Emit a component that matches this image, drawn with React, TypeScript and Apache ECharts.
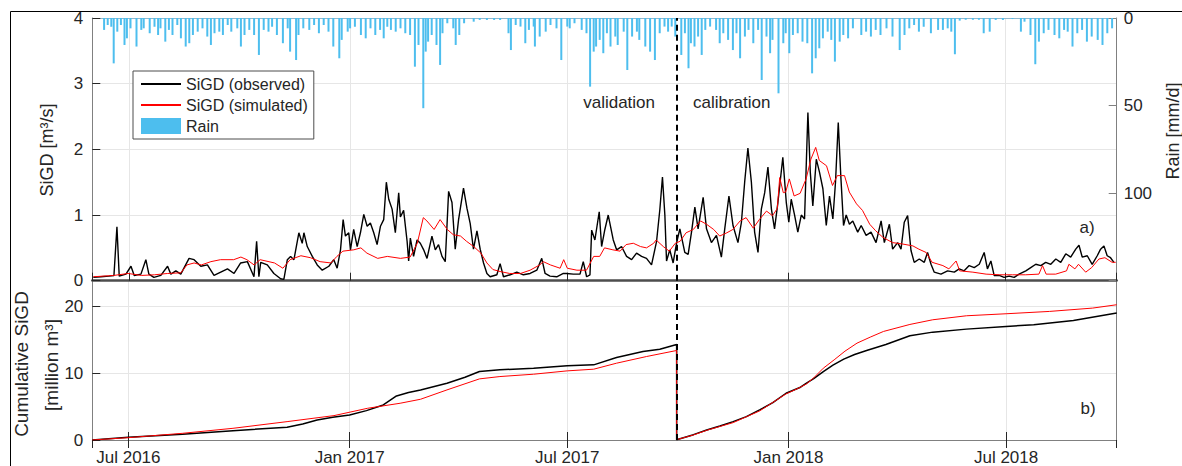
import React, { useEffect, useRef } from "react";
import * as echarts from "echarts";

const DAY = 86400000;
const T0 = Date.UTC(2016, 5, 1);
const TOTAL_DAYS = 852;
const SPLIT_DAY = 486;
const FONT = "'Liberation Sans', Arial, sans-serif";
const monthNames = ["Jan", "Feb", "Mar", "Apr", "May", "Jun", "Jul", "Aug", "Sep", "Oct", "Nov", "Dec"];
const seriesNames = ["SiGD (observed)", "SiGD (simulated)", "Rain"];

// [day since 2016-06-01, m3/s]
const observed: number[][] = [
  [0,0.05],[6.4,0.06],[13,0.07],[17.2,0.08],[19.7,0.82],[21.6,0.07],[27.2,0.1],[31.4,0.22],[34.1,0.08],[39.7,0.1],[43.8,0.32],[46.3,0.1],[50.5,0.05],[56.3,0.08],[61.9,0.22],[64.6,0.1],[68.8,0.15],[72.9,0.1],[79.8,0.34],[84,0.32],[89.6,0.22],[95.1,0.24],[100.6,0.08],[106.2,0.13],[111.8,0.18],[117.3,0.11],[122.8,0.27],[128.4,0.29],[133.9,0.06],[136.1,0.6],[138,0.06],[139.5,0.28],[145,0.24],[150.5,0.11],[156.1,0.03],[158.8,0.02],[161.7,0.32],[164.4,0.37],[167.2,0.32],[171.3,0.73],[174.1,0.57],[175.5,0.73],[178.3,0.52],[182.5,0.37],[186.6,0.24],[190.8,0.16],[196.3,0.22],[200.4,0.32],[203.2,0.19],[206,0.47],[208.2,0.93],[210.1,0.68],[212.9,0.73],[214.3,0.47],[217,0.78],[219.9,0.52],[222.6,0.73],[225.4,1.01],[228.2,0.83],[230.9,0.88],[233.7,0.73],[236.5,0.55],[239.3,0.83],[242,0.93],[244.2,1.5],[246.2,1.24],[249,1.09],[251.7,0.73],[254.5,1.34],[255.9,0.97],[258.6,1.07],[261.5,0.6],[262.8,0.3],[264.2,0.65],[266.9,0.37],[269.8,0.62],[272.5,0.57],[275.3,0.47],[278.1,0.34],[282.2,0.68],[285,0.47],[287.7,0.55],[290.6,0.37],[293.3,0.29],[296.1,1.36],[298.9,1.19],[301.6,0.48],[304.4,0.93],[308.5,1.41],[311.4,1.1],[314.1,0.87],[316.8,0.48],[319.7,0.76],[322.4,0.48],[325.2,0.27],[328,0.11],[330.7,0.06],[336.3,0.09],[339,0.26],[341.8,0.06],[347.4,0.09],[352.9,0.13],[358.4,0.09],[364,0.11],[369.6,0.16],[373.7,0.34],[376.5,0.11],[380.6,0.07],[386.2,0.06],[391.7,0.11],[394.5,0.11],[400,0.1],[405.6,0.1],[408.3,0.29],[411.1,0.06],[413.9,0.09],[415.3,0.77],[418,0.62],[421.6,1.05],[423.6,0.52],[426.3,0.78],[429.1,1.0],[433.3,0.62],[436.1,0.47],[440.2,0.52],[444.4,0.37],[448.6,0.32],[452.7,0.42],[456.9,0.37],[461,0.34],[465.2,0.24],[469.4,0.6],[472.1,1.08],[474.3,1.58],[476.3,1.0],[477.7,0.3],[480.4,0.47],[483.2,0.27],[486,0.57],[488.8,0.79],[492.9,0.43],[495.7,0.4],[498.5,0.74],[501.3,1.12],[504,0.79],[508.2,1.27],[511,0.79],[515.1,0.58],[519.3,0.69],[523.4,0.36],[526.2,0.79],[529.7,1.29],[533.1,0.84],[537.2,0.58],[540.1,0.89],[542.8,1.5],[545.5,2.02],[548.4,1.5],[551.1,0.74],[553.9,0.43],[556.7,1.09],[559.5,1.34],[562.2,1.73],[565.1,1.09],[567.7,0.79],[570.5,1.19],[574.6,1.88],[577.5,1.19],[579.6,0.89],[581.6,1.24],[584.4,1.0],[587.1,0.74],[590,1.0],[592.7,0.94],[595.5,2.56],[597.5,1.65],[599.6,1.14],[602.5,1.85],[605.2,1.65],[608,1.4],[610.8,0.84],[613.5,1.29],[616.3,0.94],[618.5,1.5],[620.8,2.41],[622.9,1.6],[625.2,0.84],[627.4,1.0],[630.1,0.86],[632.9,0.91],[637,0.74],[639.9,0.84],[644,0.69],[648.1,0.74],[652.3,0.58],[656.5,0.91],[659.2,0.58],[663.4,0.86],[666.1,0.48],[670.3,0.58],[673.1,0.48],[675.8,0.89],[678.6,0.99],[681.4,0.46],[684.1,0.28],[688.3,0.33],[692.5,0.28],[695.2,0.43],[698.1,0.25],[700.8,0.13],[706.4,0.1],[711.9,0.15],[717.5,0.13],[721.6,0.18],[725.7,0.15],[729.9,0.23],[734.1,0.2],[738.3,0.25],[742.4,0.43],[745.1,0.18],[748,0.3],[750.7,0.08],[754.9,0.08],[759,0.05],[763.2,0.07],[767.4,0.05],[771.5,0.1],[777.1,0.15],[781.2,0.2],[785.4,0.25],[789.6,0.23],[793.7,0.28],[797.9,0.25],[802.1,0.33],[806.2,0.28],[810.4,0.41],[814.5,0.36],[818.7,0.48],[821.4,0.54],[824.1,0.36],[828.3,0.38],[832.4,0.25],[836.6,0.38],[839.4,0.48],[842.2,0.53],[844.9,0.38],[847.7,0.35],[850.5,0.28]
];

const simulated: number[][] = [
  [0,0.06],[17,0.08],[29,0.11],[40,0.08],[51,0.09],[62,0.11],[73,0.12],[78,0.24],[84,0.27],[90,0.24],[98,0.29],[106,0.32],[117,0.32],[123,0.36],[128,0.32],[134,0.24],[139,0.32],[151,0.27],[158,0.19],[164,0.32],[173,0.38],[181,0.35],[189,0.29],[198,0.27],[203,0.37],[208,0.45],[217,0.47],[223,0.5],[228,0.42],[237,0.34],[245,0.37],[256,0.34],[264,0.36],[270,0.57],[275,0.96],[278,0.91],[284,0.78],[289,0.93],[295,0.78],[300,0.7],[306,0.68],[311,0.6],[317,0.52],[323,0.42],[328,0.27],[333,0.17],[339,0.14],[347,0.11],[356,0.11],[364,0.16],[372,0.24],[375,0.29],[381,0.24],[389,0.19],[392,0.32],[395,0.19],[403,0.16],[411,0.16],[417,0.37],[422,0.37],[426,0.5],[433,0.47],[439,0.45],[444,0.55],[450,0.57],[456,0.52],[461,0.5],[467,0.57],[469,0.62],[475,0.52],[480,0.45],[485,0.57],[489,0.6],[494,0.73],[500,0.78],[506,0.91],[511,0.86],[517,0.78],[522,0.68],[528,0.73],[533,0.78],[539,0.91],[544,0.96],[550,0.8],[555,0.93],[561,1.06],[566,0.99],[570,1.1],[572,1.57],[575,1.34],[577,1.35],[580,1.55],[584,1.29],[589,1.33],[594,1.55],[598,1.85],[602,2.03],[605,1.83],[611,1.75],[616,1.45],[620,1.6],[626,1.6],[630,1.35],[636,1.17],[641,1.07],[647,0.86],[652,0.76],[658,0.66],[666,0.58],[674,0.56],[683,0.53],[688,0.48],[694,0.43],[699,0.28],[708,0.23],[713,0.18],[719,0.3],[722,0.15],[733,0.13],[744,0.1],[755,0.09],[766,0.09],[777,0.09],[788,0.1],[791,0.23],[794,0.1],[802,0.1],[811,0.15],[813,0.25],[818,0.18],[821,0.25],[827,0.13],[832,0.2],[838,0.33],[843,0.35],[849,0.28],[852,0.28]
];

// [day, million m3]
const cumObserved: number[][] = [
  [0,0],[30,0.4],[75,0.85],[117,1.4],[162,1.9],[175,2.4],[187,3.0],[200,3.4],[214,3.75],[228,4.4],[242,5.25],[253,6.6],[263,7.1],[273,7.5],[295,8.5],[310,9.4],[322,10.25],[339,10.5],[367,10.75],[395,11.1],[417,11.25],[436,12.35],[458,13.25],[472,13.6],[486,14.3],
  [486,0.05],[500,0.8],[511,1.5],[522,2.1],[533,2.75],[544,3.5],[555,4.5],[566,5.6],[577,7.0],[589,7.9],[594,8.5],[600,9.2],[608,10.25],[616,11.2],[625,12.1],[634,12.8],[644,13.4],[660,14.3],[680,15.6],[699,16.15],[727,16.6],[760,17.0],[783,17.25],[816,17.9],[852,19.0]
];

const cumSimulated: number[][] = [
  [0,0],[30,0.35],[75,1.0],[117,1.75],[162,2.75],[201,3.65],[229,4.75],[256,5.5],[273,6.1],[295,7.5],[322,9.15],[339,9.5],[367,9.85],[395,10.35],[417,10.6],[436,11.5],[461,12.5],[486,13.4],
  [486,0.05],[500,0.75],[511,1.45],[533,2.6],[555,4.35],[577,6.9],[589,7.9],[594,8.4],[600,9.3],[608,10.75],[617,12.0],[626,13.3],[636,14.5],[647,15.4],[658,16.25],[680,17.3],[699,18.0],[727,18.6],[760,18.9],[796,19.25],[832,19.75],[852,20.25]
];

// [day, mm/d]
const rain: number[][] = [
  [9,6.8],[12,4],[15,5],[17,25.9],[20,7.8],[23,4],[26,15.4],[28,11.6],[31,5.9],[36,16.3],[40,6.8],[42,5.9],[47,8.7],[51,5],[54,9.7],[56,5.9],[60,13.5],[63,6.8],[66,9.7],[70,4],[73,11.6],[77,16.3],[80,14.4],[83,9.7],[87,7.8],[91,5.9],[95,10.6],[98,15.4],[101,8.7],[105,7.8],[108,9.7],[112,4],[115,7.8],[120,5.9],[123,16.3],[126,9.7],[130,6.8],[134,9.7],[138,21.1],[142,6.8],[146,7.8],[149,5],[153,9.7],[158,14.4],[162,5.9],[164,19.2],[169,24],[171,9.7],[175,5.9],[180,6.8],[184,4],[188,8.7],[192,4],[196,7.8],[200,16.3],[205,23],[207,12.5],[212,7.8],[214,5.9],[218,5],[223,9.7],[227,11.6],[231,5.9],[235,9.7],[239,6.8],[242,11.6],[245,5],[248,6.8],[252,7.8],[256,5.9],[260,8.7],[264,9.7],[268,27.8],[271,15.4],[275,51.5],[277,19.2],[279,13.5],[282,9.7],[286,15.4],[289,26.8],[291,8.7],[295,3],[300,5.9],[302,15.4],[305,9.7],[309,3],[317,2.1],[322,1.1],[328,1.1],[334,1.1],[339,1.1],[346,8.7],[348,18.3],[352,4],[356,4.9],[360,14.4],[363,6.8],[367,4.9],[368,16.3],[372,10.6],[377,7.8],[381,4],[386,5.9],[390,24],[395,4.9],[397,5.9],[401,3],[407,6.8],[411,8.7],[414,39.2],[417,19.2],[419,16.3],[422,12.5],[425,20.1],[428,8.7],[431,16.3],[435,10.6],[437,15.4],[442,7.8],[445,29.7],[449,10.6],[453,7.8],[455,12.5],[460,16.3],[464,19.2],[468,24],[472,8.7],[476,4.9],[479,7.8],[482,4.9],[485,10.6],[490,21.1],[493,8.7],[496,28.7],[498,14.4],[501,16.3],[504,10.6],[507,21.1],[510,6.8],[514,4.9],[519,6.8],[522,14.4],[525,8.7],[529,12.5],[533,18.3],[536,8.7],[539,23],[543,10.6],[546,6.8],[550,14.4],[554,6.8],[557,35.4],[561,10.6],[564,20.1],[566,12.5],[571,43],[575,14.4],[577,8.7],[580,20.1],[583,9.7],[587,8.7],[591,13.5],[595,14.4],[599,31.6],[602,23],[605,17.3],[608,11.6],[612,7.8],[615,12.5],[618,24.9],[622,13.5],[625,9.7],[629,11.6],[633,5.9],[640,9.7],[644,7.8],[648,10.6],[652,6.8],[656,9.7],[661,5.9],[666,10.6],[672,18.3],[676,9.7],[680,5.9],[684,4],[688,7.8],[692,5],[698,8.7],[704,6.8],[708,6.8],[712,5.9],[715,7.8],[718,20.7],[722,1.5],[727,1],[733,1],[738,1],[742,8.7],[747,7.8],[752,1.1],[758,1.1],[766,0.6],[773,7.8],[776,2.1],[781,9.7],[785,26.4],[788,13.5],[792,8.7],[796,6.8],[801,9.7],[805,11.6],[809,6.8],[812,7.8],[816,16.3],[820,8.7],[824,6.8],[828,13.5],[832,10.6],[837,12.5],[841,15.4],[845,8.7],[849,5.9]
];

const toTime = (pairs: number[][]) => pairs.map(([d, v]) => [T0 + d * DAY, v]);

const tickLabel = (val: number) => {
  const d = new Date(val);
  const m = d.getUTCMonth();
  if (d.getUTCDate() !== 1 || (m !== 0 && m !== 6)) return "";
  return monthNames[m] + " " + d.getUTCFullYear();
};

export default function App() {
  const ref = useRef<HTMLDivElement>(null);
  useEffect(() => {
    if (!ref.current) return;
    const chart = echarts.init(ref.current, null, { renderer: "svg" });
    const axisGray = "#808080";
    const textCol = "#262626";
    const gridCol = "#e6e6e6";
    const splitX = T0 + SPLIT_DAY * DAY;
    const xBase = {
      type: "time",
      min: T0,
      max: T0 + TOTAL_DAYS * DAY,
      minInterval: 181 * DAY,
      maxInterval: 184 * DAY,
    };
    const dashed = {
      silent: true,
      symbol: ["none", "none"],
      label: { show: false },
      lineStyle: { color: "#000", type: [6, 4], width: 2 },
      data: [{ xAxis: splitX }],
    };
    const option: any = {
      animation: false,
      useUTC: true,
      textStyle: { fontFamily: FONT },
      grid: [
        { left: 92.3, right: 65.3, top: 18, height: 262.7 },
        { left: 92.3, right: 65.3, top: 280.7, height: 159.3 },
      ],
      legend: {
        data: [
          { name: seriesNames[0], itemStyle: { opacity: 0 } },
          { name: seriesNames[1], itemStyle: { opacity: 0 } },
          { name: seriesNames[2], icon: "rect" },
        ],
        orient: "vertical",
        left: 133,
        top: 71,
        padding: [5, 6, 5, 7],
        itemWidth: 40,
        itemHeight: 16,
        itemGap: 5,
        selectedMode: false,
        backgroundColor: "#fff",
        borderColor: "#4d4d4d",
        borderWidth: 1,
        borderRadius: 0,
        textStyle: { fontSize: 16, color: textCol, fontFamily: FONT },
      },
      xAxis: [
        {
          ...xBase, gridIndex: 0, position: "bottom",
          axisLine: { show: true, lineStyle: { color: "#4d4d4d", width: 2.5 } },
          axisTick: { show: true, inside: true, length: 8, lineStyle: { color: textCol } },
          axisLabel: { show: false },
          splitLine: { show: true, lineStyle: { color: gridCol, width: 1 } },
        },
        {
          ...xBase, gridIndex: 0, position: "top",
          axisLine: { show: true, lineStyle: { color: "#93b6cc", width: 1 } },
          axisTick: { show: false }, axisLabel: { show: false }, splitLine: { show: false },
        },
        {
          ...xBase, gridIndex: 1, position: "bottom",
          axisLine: { show: true, lineStyle: { color: axisGray, width: 1 } },
          axisTick: { show: true, inside: true, length: 8, lineStyle: { color: textCol } },
          axisLabel: { show: true, formatter: tickLabel, fontSize: 17, color: textCol, margin: 9, fontFamily: FONT, showMinLabel: false, showMaxLabel: false },
          splitLine: { show: true, lineStyle: { color: gridCol, width: 1 } },
        },
        {
          ...xBase, gridIndex: 1, position: "top",
          axisLine: { show: false },
          axisTick: { show: true, inside: true, length: 8, lineStyle: { color: textCol } },
          axisLabel: { show: false }, splitLine: { show: false },
        },
      ],
      yAxis: [
        {
          type: "value", gridIndex: 0, position: "left", min: 0, max: 4, interval: 1,
          axisLine: { show: true, lineStyle: { color: axisGray } },
          axisTick: { show: true, inside: true, length: 8, lineStyle: { color: textCol } },
          axisLabel: { fontSize: 17, color: textCol, margin: 9, fontFamily: FONT },
          splitLine: { show: true, lineStyle: { color: gridCol } },
        },
        {
          type: "value", gridIndex: 0, position: "right", inverse: true, min: 0, max: 150, interval: 50,
          axisLine: { show: true, lineStyle: { color: axisGray } },
          axisTick: { show: true, inside: true, length: 8, lineStyle: { color: axisGray } },
          axisLabel: { fontSize: 17, color: textCol, margin: 7, fontFamily: FONT, formatter: (v: number) => (v >= 150 ? "" : String(v)) },
          splitLine: { show: false },
        },
        {
          type: "value", gridIndex: 1, position: "left", min: 0, max: 23.85, interval: 10,
          axisLine: { show: true, lineStyle: { color: axisGray } },
          axisTick: { show: true, inside: true, length: 8, lineStyle: { color: textCol } },
          axisLabel: { fontSize: 17, color: textCol, margin: 9, fontFamily: FONT, showMaxLabel: false, formatter: (v: number) => (v > 20 ? "" : String(v)) },
          splitLine: { show: true, lineStyle: { color: gridCol } },
        },
        {
          type: "value", gridIndex: 1, position: "right", min: 0, max: 23.85, interval: 10,
          axisLine: { show: true, lineStyle: { color: axisGray } },
          axisTick: { show: false }, axisLabel: { show: false }, splitLine: { show: false },
        },
      ],
      series: [
        {
          name: seriesNames[2], type: "bar", xAxisIndex: 0, yAxisIndex: 1,
          data: toTime(rain), barWidth: 2, itemStyle: { color: "#4DBEEE" }, z: 1,
        },
        {
          name: seriesNames[0], type: "line", xAxisIndex: 0, yAxisIndex: 0,
          data: toTime(observed), showSymbol: false, symbol: "none",
          lineStyle: { color: "#000", width: 1.4 }, itemStyle: { color: "#000" }, z: 4,
          markLine: dashed,
        },
        {
          name: seriesNames[1], type: "line", xAxisIndex: 0, yAxisIndex: 0,
          data: toTime(simulated), showSymbol: false, symbol: "none",
          lineStyle: { color: "#ff0000", width: 1 }, itemStyle: { color: "#ff0000" }, z: 4,
        },
        {
          name: "cumObserved", type: "line", xAxisIndex: 2, yAxisIndex: 2,
          data: toTime(cumObserved), showSymbol: false, symbol: "none",
          lineStyle: { color: "#000", width: 1.5 }, z: 4,
          markLine: dashed,
        },
        {
          name: "cumSimulated", type: "line", xAxisIndex: 2, yAxisIndex: 2,
          data: toTime(cumSimulated), showSymbol: false, symbol: "none",
          lineStyle: { color: "#ff0000", width: 1 }, z: 4,
        },
      ],
      graphic: [
        { type: "rect", silent: true, shape: { x: 10.5, y: 11.5, width: 1400, height: 700 }, style: { fill: "none", stroke: "#000", lineWidth: 1 } },
        { type: "text", x: 47, y: 150, rotation: Math.PI / 2, style: { text: "SiGD [m³/s]", font: `18px ${FONT}`, fill: textCol, align: "center", verticalAlign: "middle" } },
        { type: "text", x: 1173, y: 131, rotation: Math.PI / 2, style: { text: "Rain [mm/d]", font: `18px ${FONT}`, fill: textCol, align: "center", verticalAlign: "middle" } },
        { type: "text", x: 21, y: 364, rotation: Math.PI / 2, style: { text: "Cumulative SiGD", font: `19px ${FONT}`, fill: textCol, align: "center", verticalAlign: "middle" } },
        { type: "text", x: 51, y: 365, rotation: Math.PI / 2, style: { text: "[million m³]", font: `19px ${FONT}`, fill: textCol, align: "center", verticalAlign: "middle" } },
        { type: "text", x: 655, y: 102, style: { text: "validation", font: `17px ${FONT}`, fill: textCol, align: "right", verticalAlign: "middle" } },
        { type: "text", x: 693, y: 102, style: { text: "calibration", font: `17px ${FONT}`, fill: textCol, align: "left", verticalAlign: "middle" } },
        { type: "text", x: 1087, y: 227, style: { text: "a)", font: `17px ${FONT}`, fill: textCol, align: "center", verticalAlign: "middle" } },
        { type: "text", x: 1088, y: 408, style: { text: "b)", font: `17px ${FONT}`, fill: textCol, align: "center", verticalAlign: "middle" } },
      ],
    };
    chart.setOption(option);
    return () => chart.dispose();
  }, []);
  return <div ref={ref} style={{ position: "absolute", left: 0, top: 0, width: 1182, height: 466 }} />;
}
